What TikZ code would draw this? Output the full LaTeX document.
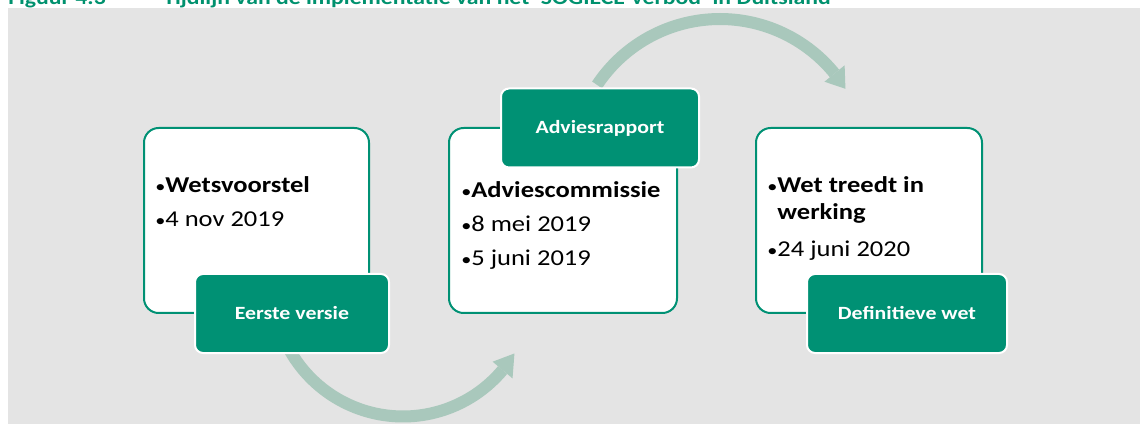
\documentclass[tikz,border=0pt]{standalone}
\usepackage{fontspec}
\setmainfont{Carlito}[FakeStretch=1.17]
\definecolor{bg}{HTML}{E4E4E4}
\definecolor{grn}{HTML}{009174}
\definecolor{arr}{HTML}{A9C8BC}
\definecolor{ttl}{HTML}{00916E}
\newcommand{\blt}{{\fontsize{13}{13}\selectfont•}}
\begin{document}
\begin{tikzpicture}[x=0.75pt,y=-0.75pt,
  card/.style={draw=grn, line width=1.5pt, fill=white, rounded corners=11pt, inner sep=0pt, minimum height=138.75pt},
  tag/.style={draw=white, line width=1.5pt, fill=grn, rounded corners=6pt, inner sep=0pt, text=white,
    font=\fontsize{14}{16}\selectfont\bfseries, minimum height=59.25pt},
  body/.style={anchor=base west, inner sep=0pt, font=\fontsize{17}{20.25}\selectfont},
  band/.style={draw=arr, line width=9pt},
  head/.style={fill=arr},
  title/.style={anchor=base west, inner sep=0pt, text=ttl, font=\fontsize{15.2}{18}\selectfont\bfseries}]
\useasboundingbox (0,0) rectangle (1140,424);
\clip (0,0) rectangle (1140,424);
\fill[bg] (8,8) rectangle (1140,424);
\node[title] (fig) at (8,5) {Figuur 4.3};
\node[title] (cap) at (163,5) {Tijdlijn van de implementatie van het ‘SOGIECE-verbod’ in Duitsland};
% arrows
\coordinate (c1) at (403,286.5);
\coordinate (c2) at (720,166.6);
\draw[band] plot[domain=151:40, samples=60] ({403+130*cos(\x)},{286.5+130*sin(\x)});
\fill[head] ({403+117*cos(40)},{286.5+117*sin(40)}) -- ({403+143*cos(40)},{286.5+143*sin(40)}) -- ({403+130*cos(31)},{286.5+130*sin(31)}) -- cycle;
\draw[band] plot[domain=213.6:320.9, samples=60] ({720+147.6*cos(\x)},{166.6+147.6*sin(\x)});
\fill[head] ({720+134.6*cos(320.9)},{166.6+134.6*sin(320.9)}) -- ({720+160.6*cos(320.9)},{166.6+160.6*sin(320.9)}) -- ({720+147.6*cos(328.2)},{166.6+147.6*sin(328.2)}) -- cycle;
% cards
\node[card, minimum width=168.75pt] (b1) at (256.5,220.5) {};
\node[card, minimum width=171pt] (b2) at (563,220.5) {};
\node[card, minimum width=169.5pt] (b3) at (869,220.5) {};
\node[body] (t1) at (155,193) {\begin{tabular}[t]{@{}l@{}}\blt\textbf{Wetsvoorstel}\\[5.25pt] \blt 4 nov 2019\end{tabular}};
\node[body] (t2) at (461,198) {\begin{tabular}[t]{@{}l@{}}\blt\textbf{Adviescommissie}\\[5pt] \blt 8 mei 2019\\[5pt] \blt 5 juni 2019\end{tabular}};
\node[body] (t3) at (767,193) {\begin{tabular}[t]{@{}l@{}}\blt\textbf{Wet treedt in}\\ \phantom{\blt}\textbf{werking}\\[7.5pt] \blt 24 juni 2020\end{tabular}};
% tags
\node[tag, minimum width=145.5pt] (l1) at (292,313.5) {Eerste versie};
\node[tag, minimum width=148.5pt] (l2) at (600,128) {Adviesrapport};
\node[tag, minimum width=150pt] (l3) at (907,313.5) {Definitieve wet};
\end{tikzpicture}
\end{document}
